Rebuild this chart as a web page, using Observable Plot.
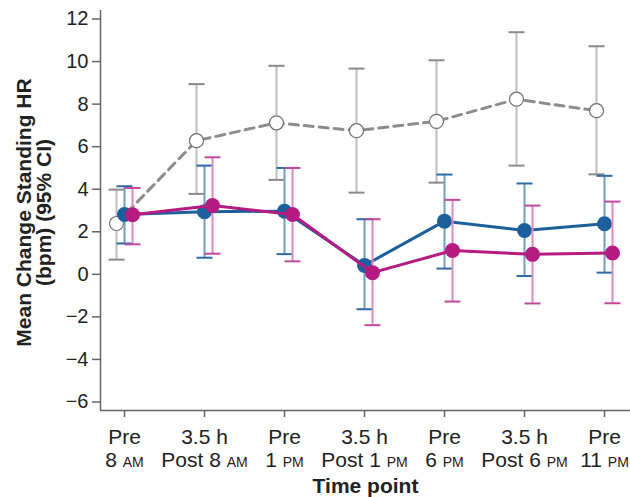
<!DOCTYPE html>
<html>
<head>
<meta charset="utf-8">
<script src="https://cdn.jsdelivr.net/npm/d3@7"></script>
<script src="https://cdn.jsdelivr.net/npm/@observablehq/plot@0.6"></script>
<style>
  html, body { margin: 0; padding: 0; background: #fff; }
  svg { font-family: "Liberation Sans", Arial, Helvetica, sans-serif; }
</style>
</head>
<body>
<div id="chart"></div>
<script>
// Tick labels (two lines each)
const timeLine1 = ["Pre", "3.5 h", "Pre", "3.5 h", "Pre", "3.5 h", "Pre"];
const timeLine2 = ["8 AM", "Post 8 AM", "1 PM", "Post 1 PM", "6 PM", "Post 6 PM", "11 PM"];
const timeIndex = [0, 1, 2, 3, 4, 5, 6];

// Gray series (open circles, dashed line)
const grayMean = [2.39, 6.28, 7.12, 6.75, 7.19, 8.23, 7.69];
const grayLo   = [0.69, 3.78, 4.44, 3.84, 4.31, 5.11, 4.70];
const grayHi   = [3.98, 8.94, 9.80, 9.67, 10.06, 11.38, 10.72];

// Blue series
const blueMean = [2.81, 2.94, 2.97, 0.42, 2.50, 2.06, 2.38];
const blueLo   = [1.45, 0.78, 0.95, -1.64, 0.27, -0.08, 0.08];
const blueHi   = [4.14, 5.11, 5.00, 2.59, 4.69, 4.27, 4.63];

// Magenta series
const magMean = [2.80, 3.23, 2.81, 0.08, 1.12, 0.94, 1.00];
const magLo   = [1.41, 0.97, 0.61, -2.39, -1.28, -1.37, -1.36];
const magHi   = [4.06, 5.50, 5.00, 2.59, 3.50, 3.23, 3.42];

const yTicks = [-6, -4, -2, 0, 2, 4, 6, 8, 10, 12];
const xDomain = [-0.3, 6.325];
const yDomain = [-6.4, 12.4];

function rows(mean, lo, hi) {
  return timeIndex.map(i => ({i, mean: mean[i], lo: lo[i], hi: hi[i]}));
}
const gray = rows(grayMean, grayLo, grayHi);
const blue = rows(blueMean, blueLo, blueHi);
const mag = rows(magMean, magLo, magHi);

// horizontal cap symbol
const cap = {
  draw(ctx, size) {
    const w = Math.sqrt(size / Math.PI);
    ctx.moveTo(-w, 0);
    ctx.lineTo(w, 0);
  }
};

function series(data, o) {
  return [
    Plot.ruleX(data, {x: "i", y1: "lo", y2: "hi", stroke: o.stem, strokeWidth: 2, dx: o.dx}),
    Plot.dot(data, {x: "i", y: "hi", symbol: cap, r: 8, stroke: o.cap, strokeWidth: 2, dx: o.dx}),
    Plot.dot(data, {x: "i", y: "lo", symbol: cap, r: 8, stroke: o.cap, strokeWidth: 2, dx: o.dx}),
    Plot.line(data, {x: "i", y: "mean", stroke: o.line, strokeWidth: 3, strokeDasharray: o.dash, dx: o.dx}),
    Plot.dot(data, {x: "i", y: "mean", r: o.r, fill: o.fill, stroke: o.dotStroke, strokeWidth: o.dotStrokeWidth, dx: o.dx})
  ];
}

const minus = d => d < 0 ? "\u2212" + Math.abs(d) : String(d);

const plot = Plot.plot({
  width: 630,
  height: 497,
  marginLeft: 100,
  marginRight: 0,
  marginTop: 10,
  marginBottom: 87,
  x: {type: "linear", domain: xDomain, axis: null},
  y: {domain: yDomain, axis: null},
  marks: [
    Plot.ruleX([xDomain[0]], {stroke: "#666", strokeWidth: 1.5}),
    Plot.ruleY([yDomain[0]], {stroke: "#666", strokeWidth: 1.5}),
    Plot.axisY({ticks: yTicks, tickFormat: minus, tickSize: 8, tickPadding: 4, fontSize: 20, color: "#222", stroke: "#666", strokeWidth: 1.5, label: null}),
    Plot.axisX({ticks: timeIndex, tickFormat: i => timeLine1[i] + "\n" + timeLine2[i], tickSize: 7, tickPadding: 10, fontSize: 21, lineHeight: 1.1, lineAnchor: "top", color: "#222", stroke: "#666", strokeWidth: 1.5, label: null}),
    Plot.text(["Mean Change Standing HR\n(bpm) (95% CI)"], {frameAnchor: "left", text: d => d, rotate: -90, dx: -66, dy: 2, fontSize: 21, fontWeight: "bold", fill: "#222", lineHeight: 0.95, lineAnchor: "middle", textAnchor: "middle"}),
    Plot.text(["Time point"], {frameAnchor: "bottom", text: d => d, dy: 76, fontSize: 21, fontWeight: "bold", fill: "#222", lineAnchor: "middle"}),
    ...series(gray, {dx: -8, stem: "#bdbdbd", cap: "#8a8a8a", line: "#8c8c8c", dash: "9,6", r: 7, fill: "#fff", dotStroke: "#6f6f6f", dotStrokeWidth: 1.2}),
    ...series(blue, {dx: 0, stem: "#6e9cc9", cap: "#2f6aa7", line: "#1c5f9d", dash: null, r: 7.5, fill: "#1c5f9d", dotStroke: "none", dotStrokeWidth: 0}),
    ...series(mag, {dx: 8, stem: "#dc8abf", cap: "#c2479a", line: "#b51c82", dash: null, r: 7.5, fill: "#b51c82", dotStroke: "none", dotStrokeWidth: 0})
  ]
});

// small caps for AM / PM in x tick labels
plot.querySelectorAll('[aria-label="x-axis tick label"] tspan').forEach(ts => {
  const t = ts.textContent;
  const m = t.match(/^(.*?)(AM|PM)$/);
  if (m) {
    ts.textContent = m[1];
    const s = document.createElementNS("http://www.w3.org/2000/svg", "tspan");
    s.setAttribute("font-size", "14");
    s.textContent = m[2];
    ts.appendChild(s);
  }
});

document.getElementById("chart").appendChild(plot);
</script>
</body>
</html>
